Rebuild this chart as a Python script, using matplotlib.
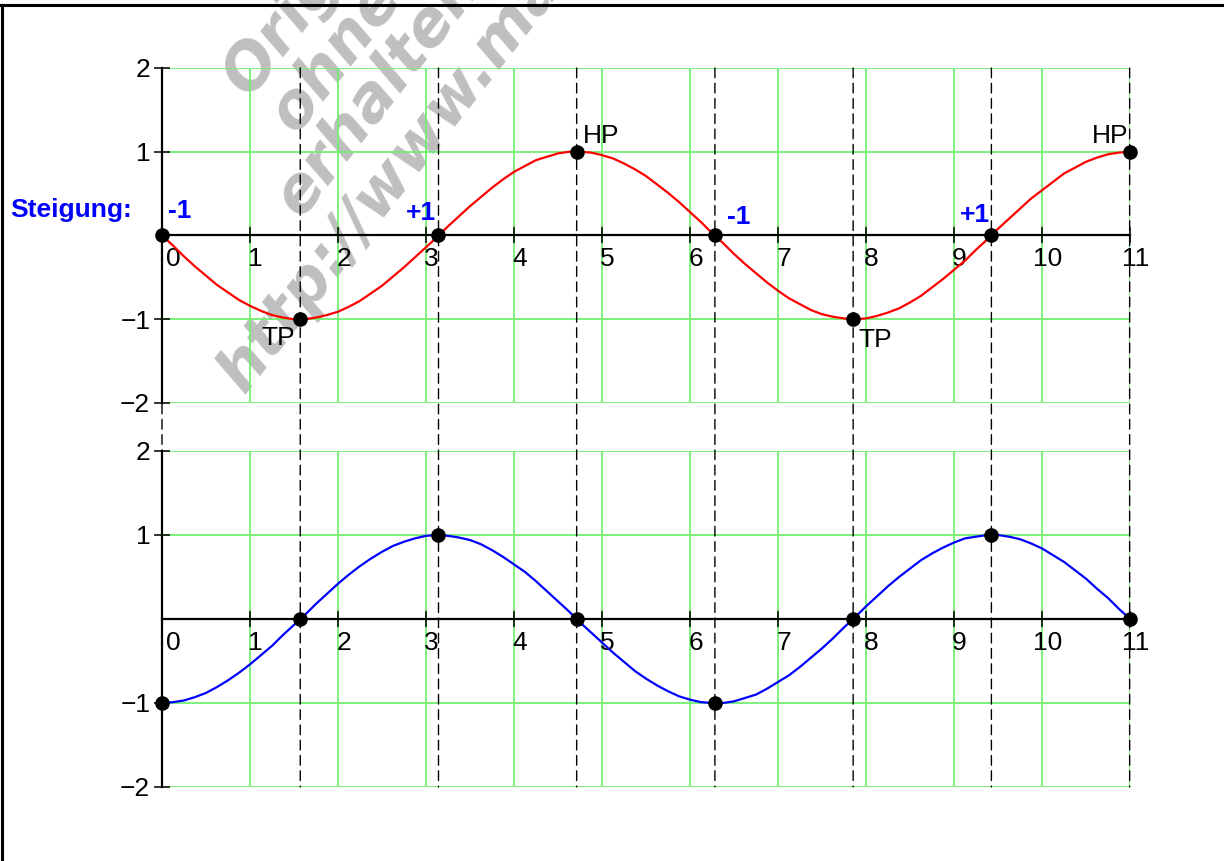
import matplotlib
matplotlib.use("Agg")
import matplotlib.pyplot as plt
import matplotlib.transforms as mtransforms
from matplotlib.patches import ConnectionPatch
from matplotlib.lines import Line2D

# ---------------- data ----------------
x_vals = [0.0, 0.125, 0.25, 0.375, 0.5, 0.625, 0.75, 0.875,
          1.0, 1.125, 1.25, 1.375, 1.5, 1.625, 1.75, 1.875,
          2.0, 2.125, 2.25, 2.375, 2.5, 2.625, 2.75, 2.875,
          3.0, 3.125, 3.25, 3.375, 3.5, 3.625, 3.75, 3.875,
          4.0, 4.125, 4.25, 4.375, 4.5, 4.625, 4.75, 4.875,
          5.0, 5.125, 5.25, 5.375, 5.5, 5.625, 5.75, 5.875,
          6.0, 6.125, 6.25, 6.375, 6.5, 6.625, 6.75, 6.875,
          7.0, 7.125, 7.25, 7.375, 7.5, 7.625, 7.75, 7.875,
          8.0, 8.125, 8.25, 8.375, 8.5, 8.625, 8.75, 8.875,
          9.0, 9.125, 9.25, 9.375, 9.5, 9.625, 9.75, 9.875,
          10.0, 10.125, 10.25, 10.375, 10.5, 10.625, 10.75, 10.875,
          11.0]
f_vals = [0.00, -0.12, -0.25, -0.37, -0.48, -0.59, -0.68, -0.77,
          -0.84, -0.90, -0.95, -0.98, -1.00, -1.00, -0.98, -0.95,
          -0.91, -0.85, -0.78, -0.69, -0.60, -0.49, -0.38, -0.26,
          -0.14, -0.02, 0.11, 0.23, 0.35, 0.46, 0.57, 0.67,
          0.76, 0.83, 0.90, 0.94, 0.98, 1.00, 1.00, 0.99,
          0.96, 0.92, 0.86, 0.79, 0.71, 0.61, 0.51, 0.40,
          0.28, 0.16, 0.03, -0.09, -0.22, -0.34, -0.45, -0.56,
          -0.66, -0.75, -0.82, -0.89, -0.94, -0.97, -0.99, -1.00,
          -0.99, -0.96, -0.92, -0.87, -0.80, -0.72, -0.62, -0.52,
          -0.41, -0.30, -0.17, -0.05, 0.08, 0.20, 0.32, 0.44,
          0.54, 0.64, 0.74, 0.81, 0.88, 0.93, 0.97, 0.99,
          1.00]
fprime_vals = [-1.00, -0.99, -0.97, -0.93, -0.88, -0.81, -0.73, -0.64,
               -0.54, -0.43, -0.32, -0.19, -0.07, 0.05, 0.18, 0.30,
               0.42, 0.53, 0.63, 0.72, 0.80, 0.87, 0.92, 0.96,
               0.99, 1.00, 0.99, 0.97, 0.94, 0.89, 0.82, 0.74,
               0.65, 0.56, 0.45, 0.33, 0.21, 0.09, -0.04, -0.16,
               -0.28, -0.40, -0.51, -0.62, -0.71, -0.79, -0.86, -0.92,
               -0.96, -0.99, -1.00, -1.00, -0.98, -0.94, -0.90, -0.83,
               -0.75, -0.67, -0.57, -0.46, -0.35, -0.23, -0.10, 0.02,
               0.15, 0.27, 0.39, 0.50, 0.60, 0.70, 0.78, 0.85,
               0.91, 0.96, 0.98, 1.00, 1.00, 0.98, 0.95, 0.90,
               0.84, 0.76, 0.68, 0.58, 0.48, 0.36, 0.25, 0.12,
               0.00]

crit_x = [0.0, 1.571, 3.142, 4.712, 6.283, 7.854, 9.425, 10.996]
f_crit = [0, -1, 0, 1, 0, -1, 0, 1]
fprime_crit = [-1, 0, 1, 0, -1, 0, 1, 0]

slope_labels = ["-1", "+1", "-1", "+1"]
extrema_labels = ["TP", "HP", "TP", "HP"]

x_ticks = [0, 1, 2, 3, 4, 5, 6, 7, 8, 9, 10, 11]
x_tick_labels = ["0", "1", "2", "3", "4", "5", "6", "7", "8", "9", "10", "11"]
y_ticks = [-2, -1, 1, 2]
y_tick_labels = ["\u22122", "\u22121", "1", "2"]

watermark_lines = ["Orig", "ohne", "erhalten", "http://www.ma"]

# ---------------- style ----------------
plt.rcParams['font.family'] = ['Liberation Sans', 'DejaVu Sans']
GREEN = '#72ee72'
W, H = 1224, 861

fig = plt.figure(figsize=(W / 100, H / 100), dpi=100)

ax1 = fig.add_axes([162 / W, 1 - 403 / H, 968 / W, 335 / H])
ax2 = fig.add_axes([162 / W, 1 - 787 / H, 968 / W, 336 / H])


def style(ax):
    ax.set_xlim(0, 11)
    ax.set_ylim(-2, 2)
    ax.set_facecolor('none')
    for s in ['top', 'right']:
        ax.spines[s].set_visible(False)
    ax.spines['bottom'].set_position(('data', 0))
    ax.spines['left'].set_linewidth(1.6)
    ax.spines['bottom'].set_linewidth(1.6)
    ax.set_xticks(x_ticks)
    ax.set_xticklabels(x_tick_labels)
    ax.set_yticks(y_ticks)
    ax.set_yticklabels(y_tick_labels)
    ax.tick_params(direction='inout', length=12, width=1.1, labelsize=19,
                   pad=2.5, colors='black')
    ax.grid(True, color=GREEN, lw=1.3)
    ax.set_axisbelow(True)
    for i, lbl in enumerate(ax.get_xticklabels()):
        dx = 11 if i == 0 else 5.5
        off = mtransforms.ScaledTranslation(dx / 100, 0, fig.dpi_scale_trans)
        lbl.set_transform(lbl.get_transform() + off)


style(ax1)
style(ax2)

ax1.plot(x_vals, f_vals, color='#ff0000', lw=1.6, zorder=3)
ax2.plot(x_vals, fprime_vals, color='#0000ff', lw=1.6, zorder=3)
ax1.plot(crit_x, f_crit, 'o', color='black', ms=9.5, clip_on=False, zorder=5)
ax2.plot(crit_x, fprime_crit, 'o', color='black', ms=9.5, clip_on=False, zorder=5)

# dashed connecting lines
for xc in crit_x:
    con = ConnectionPatch(xyA=(xc, 2), coordsA=ax1.transData,
                          xyB=(xc, -2), coordsB=ax2.transData,
                          linestyle=(0, (7, 4)), color='black', lw=1.0, zorder=1)
    fig.add_artist(con)

# slope labels
bold_blue = dict(color='#0000ff', fontsize=19, fontweight='bold')
ax1.text(0.07, 0.21, slope_labels[0], ha='left', va='baseline', **bold_blue)
ax1.text(3.11, 0.19, slope_labels[1], ha='right', va='baseline', **bold_blue)
ax1.text(6.42, 0.14, slope_labels[2], ha='left', va='baseline', **bold_blue)
ax1.text(9.41, 0.16, slope_labels[3], ha='right', va='baseline', **bold_blue)
fig.text(10 / W, 1 - 217 / H, "Steigung:", ha='left', va='baseline', **bold_blue)

# extrema labels (offsets in points)
px = 0.72
ann = [(1, extrema_labels[0], (-5, -26), 'right'),
       (3, extrema_labels[1], (6, 9), 'left'),
       (5, extrema_labels[2], (5, -28), 'left'),
       (7, extrema_labels[3], (-1, 9), 'right')]
for idx, lab, (dx, dy), ha in ann:
    ax1.annotate(lab, (crit_x[idx], f_crit[idx]), xytext=(dx * px, dy * px),
                 textcoords='offset points', ha=ha, va='baseline', fontsize=19,
                 color='black', annotation_clip=False)

# watermark (partly running off the top edge, as in the reference)
wm_pos = [(249, 98), (296, 134), (301, 218), (244, 395)]
for (wx, wy), txt in zip(wm_pos, watermark_lines):
    fig.text(wx / W, 1 - wy / H, txt, rotation=52, rotation_mode='anchor',
             ha='left', va='baseline', fontsize=45, fontweight='bold',
             fontstyle='oblique', family='DejaVu Sans', color='#bfbfbf', zorder=-1)

# frame lines (top and left)
fig.add_artist(Line2D([0, 1], [1 - 4.5 / H, 1 - 4.5 / H], transform=fig.transFigure,
                      color='black', lw=2.2))
fig.add_artist(Line2D([1.5 / W, 1.5 / W], [0, 1 - 4.5 / H], transform=fig.transFigure,
                      color='black', lw=2.2))

fig.savefig('out.png', dpi=100)
